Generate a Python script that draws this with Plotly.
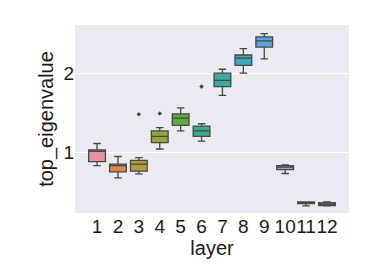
import plotly.graph_objects as go

layers = ["1", "2", "3", "4", "5", "6", "7", "8", "9", "10", "11", "12"]
lower = [0.83, 0.675, 0.725, 1.04, 1.27, 1.14, 1.72, 2.00, 2.18, 0.73, 0.32, 0.32]
q1 = [0.88, 0.75, 0.76, 1.12, 1.34, 1.20, 1.83, 2.10, 2.33, 0.78, 0.35, 0.325]
median = [1.01, 0.83, 0.85, 1.20, 1.43, 1.27, 1.91, 2.19, 2.41, 0.81, 0.36, 0.34]
q3 = [1.03, 0.85, 0.895, 1.27, 1.485, 1.33, 2.00, 2.23, 2.46, 0.83, 0.37, 0.36]
upper = [1.11, 0.945, 0.93, 1.31, 1.56, 1.36, 2.05, 2.31, 2.50, 0.84, 0.37, 0.37]
outlier_layers = ["3", "4", "6"]
outlier_values = [1.48, 1.49, 1.83]

colors = ["#e8919f", "#dc8a4c", "#b69a3e", "#99a23b", "#5cac3f", "#3cab8c",
          "#3ea9a1", "#40a6b8", "#5aa4e0", "#a793e0", "#d07fdc", "#e084c2"]
line_gray = "#474747"

fig = go.Figure()
for i, lay in enumerate(layers):
    fig.add_trace(go.Box(
        x=[lay], q1=[q1[i]], median=[median[i]], q3=[q3[i]],
        lowerfence=[lower[i]], upperfence=[upper[i]],
        fillcolor=colors[i], line=dict(color=line_gray, width=1.3),
        whiskerwidth=0.45, width=0.8, boxpoints=False, showlegend=False,
    ))
fig.add_trace(go.Scatter(
    x=outlier_layers, y=outlier_values, mode="markers",
    marker=dict(symbol="diamond", size=3.5, color=line_gray),
    showlegend=False,
))

# page body has an 8px default margin; margins compensate for it
fig.update_layout(
    width=374, height=280,
    margin=dict(l=67, r=33, t=17, b=75),
    paper_bgcolor="white", plot_bgcolor="#eaeaf2",
    font=dict(family="Liberation Sans, Arial", size=19, color="#1a1a1a"),
)
fig.update_xaxes(
    type="category", categoryorder="array", categoryarray=layers,
    tickmode="array", tickvals=layers, ticktext=layers, tickangle=0,
    showgrid=False, zeroline=False, showline=False, ticks="",
    title=dict(text="layer", font=dict(size=20), standoff=0),
    tickfont=dict(size=19), automargin=False,
)
fig.update_yaxes(
    range=[0.23, 2.61], tickvals=[1, 2], ticktext=["1", "2"],
    showgrid=True, gridcolor="white", gridwidth=1, zeroline=False,
    showline=False, ticks="",
    title=dict(text="top_eigenvalue", font=dict(size=20), standoff=4),
    tickfont=dict(size=19), automargin=False,
)

fig.write_html("out.html")
